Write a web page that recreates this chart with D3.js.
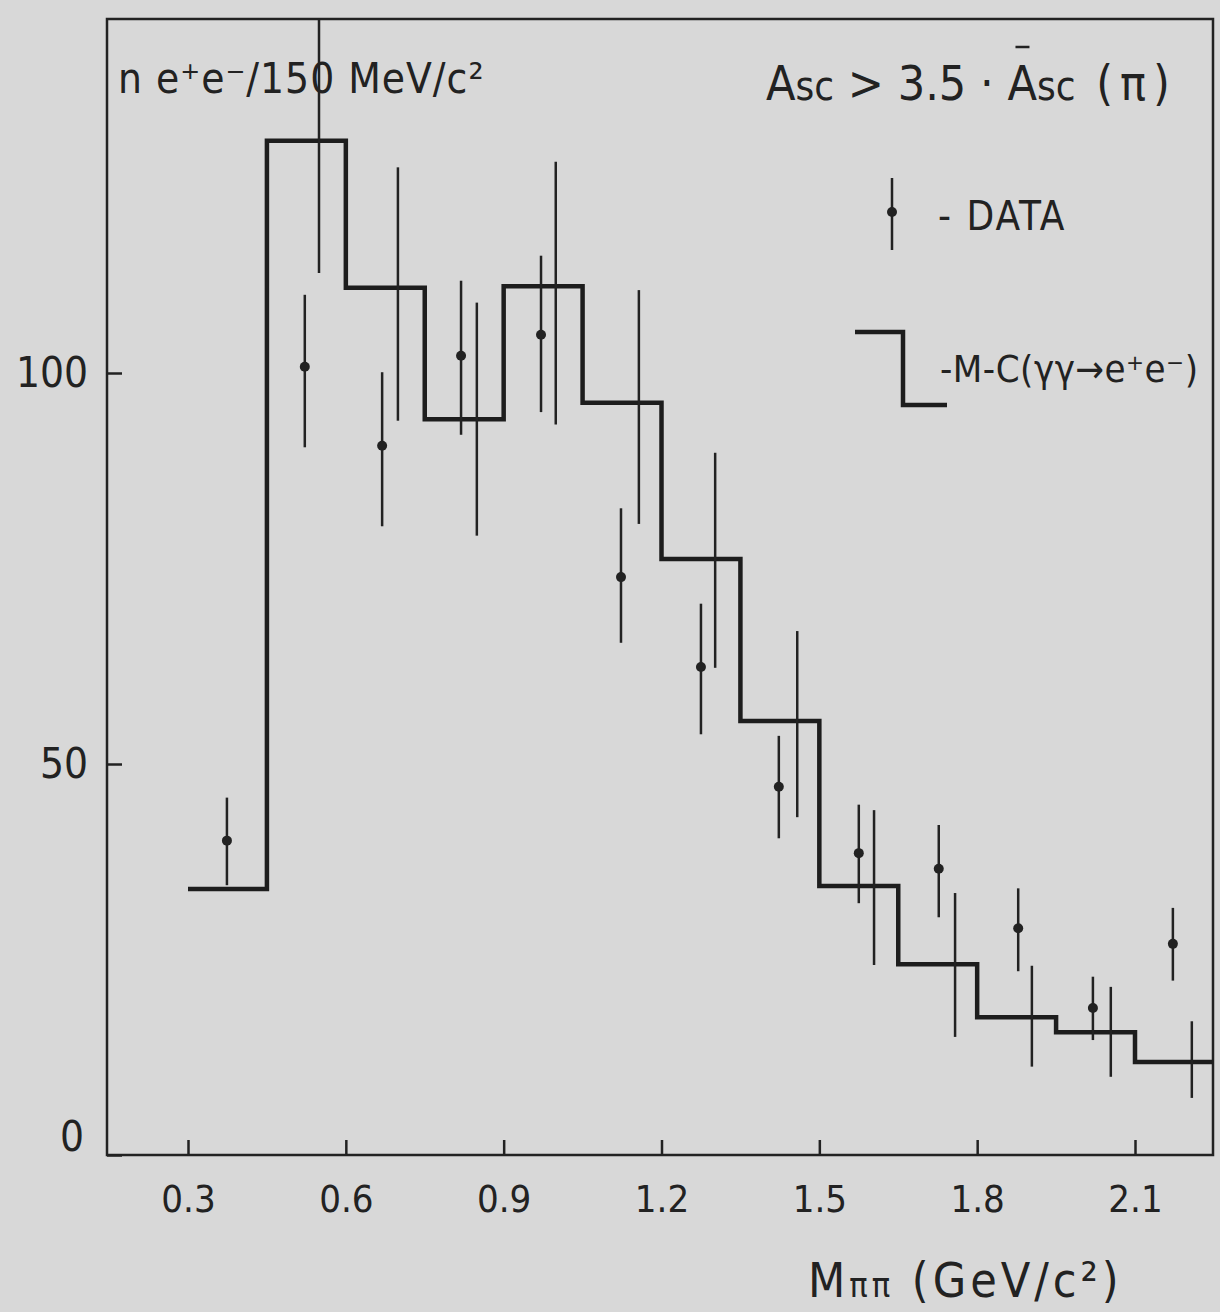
<!DOCTYPE html>
<html>
<head>
  <meta charset="utf-8">
  <title>M pi pi</title>
  <script src="https://d3js.org/d3.v7.min.js"></script>

<style type="text/css">

body {
  margin: 0;
  background: #d8d8d8;
}

svg {
  display: block;
  background: #d8d8d8;
  font-family: "DejaVu Sans Condensed", "DejaVu Sans", sans-serif;
}

text {
  fill: #222;
}

.frame {
  fill: none;
  stroke: #222;
  stroke-width: 2.5;
}

.axis path.domain {
  display: none;
}

.axis line {
  stroke: #222;
  stroke-width: 2.5;
}

.axis text {
  fill: #222;
  font-family: "DejaVu Sans Condensed", "DejaVu Sans", sans-serif;
}

.mc {
  fill: none;
  stroke: #1d1d1d;
  stroke-width: 4.5;
}

.err line {
  stroke: #222;
  stroke-width: 2.5;
}

.dot {
  fill: #222;
}

</style>
</head>
<body>

<svg width="1220" height="1312">
  <defs>
    <clipPath id="plot-clip"><rect x="107" y="19" width="1106" height="1136"></rect></clipPath>
  </defs>
</svg>

<script type="text/javascript">

// MC histogram, 150 MeV bins
let binEdges = [0.3, 0.45, 0.6, 0.75, 0.9, 1.05, 1.2, 1.35, 1.5, 1.65, 1.8, 1.95, 2.1, 2.25];
let mcCounts = [34.0, 129.7, 110.9, 94.1, 111.1, 96.2, 76.2, 55.5, 34.4, 24.4, 17.6, 15.7, 11.9];

// MC error bars (drawn a bit right of each bin centre)
let mcErrMass = [0.549, 0.699, 0.849, 0.999, 1.157, 1.302, 1.458, 1.604, 1.758, 1.904, 2.054, 2.208];
let mcErrLo = [112.8, 93.9, 79.2, 93.4, 80.7, 62.3, 43.2, 24.3, 15.1, 11.3, 10.0, 7.3];
let mcErrHi = [150.0, 126.3, 109.0, 127.0, 110.6, 89.8, 67.0, 44.1, 33.5, 24.2, 21.5, 17.1];

// data points
let dataMass = [0.374, 0.522, 0.669, 0.819, 0.971, 1.123, 1.275, 1.423, 1.575, 1.727, 1.878, 2.020, 2.172];
let dataCounts = [40.2, 100.8, 90.7, 102.2, 104.9, 73.9, 62.4, 47.1, 38.6, 36.6, 29.0, 18.8, 27.0];
let dataLo = [34.5, 90.5, 80.4, 92.1, 95.0, 65.5, 53.8, 40.5, 32.2, 30.4, 23.5, 14.7, 22.3];
let dataHi = [45.7, 110.0, 100.1, 111.8, 115.0, 82.7, 70.5, 53.6, 44.8, 42.2, 34.1, 22.8, 31.6];

let xTicks = [0.3, 0.6, 0.9, 1.2, 1.5, 1.8, 2.1];
let yTicks = [0, 50, 100];

let svg = d3.select('svg');

let x = d3.scaleLinear()
  .domain([0.3, 2.1])
  .range([188, 1135]);

let y = d3.scaleLinear()
  .domain([0, 100])
  .range([1155, 373]);

// frame
svg.append('rect')
  .attr('class', 'frame')
  .attr('x', 107)
  .attr('y', 19)
  .attr('width', 1106)
  .attr('height', 1136);

// axes, ticks pointing inward
svg.append('g')
  .attr('class', 'axis')
  .attr('transform', 'translate(0,1155)')
  .call(d3.axisBottom(x)
    .tickValues(xTicks)
    .tickFormat(d3.format('.1f'))
    .tickSizeInner(-15)
    .tickSizeOuter(0)
    .tickPadding(30))
  .selectAll('text')
  .style('font-size', '38px');

let yAxis = svg.append('g')
  .attr('class', 'axis')
  .attr('transform', 'translate(107,0)')
  .call(d3.axisLeft(y)
    .tickValues(yTicks)
    .tickSizeInner(-15)
    .tickSizeOuter(0)
    .tickPadding(19));

yAxis.selectAll('text')
  .style('font-size', '42px');

yAxis.selectAll('text')
  .filter(d => d === 0)
  .attr('y', -18)
  .attr('x', -23);

let plot = svg.append('g')
  .attr('clip-path', 'url(#plot-clip)');

// MC histogram
let steps = mcCounts.map((c, i) => [binEdges[i], c]);
steps.push([binEdges[binEdges.length - 1], mcCounts[mcCounts.length - 1]]);

let stepLine = d3.line()
  .x(d => x(d[0]))
  .y(d => y(d[1]))
  .curve(d3.curveStepAfter);

plot.append('path')
  .attr('class', 'mc')
  .attr('d', stepLine(steps));

// MC error bars
plot.append('g')
  .attr('class', 'err')
  .selectAll('line')
  .data(mcErrMass)
  .enter()
  .append('line')
  .attr('x1', d => x(d))
  .attr('x2', d => x(d))
  .attr('y1', (d, i) => y(mcErrLo[i]))
  .attr('y2', (d, i) => y(mcErrHi[i]));

// data error bars + dots
plot.append('g')
  .attr('class', 'err')
  .selectAll('line')
  .data(dataMass)
  .enter()
  .append('line')
  .attr('x1', d => x(d))
  .attr('x2', d => x(d))
  .attr('y1', (d, i) => y(dataLo[i]))
  .attr('y2', (d, i) => y(dataHi[i]));

plot.append('g')
  .selectAll('circle')
  .data(dataMass)
  .enter()
  .append('circle')
  .attr('class', 'dot')
  .attr('cx', d => x(d))
  .attr('cy', (d, i) => y(dataCounts[i]))
  .attr('r', 5);

// y label, top left
svg.append('text')
  .attr('x', 118)
  .attr('y', 93)
  .style('font-size', '42px')
  .style('letter-spacing', '1px')
  .text('n e⁺e⁻/150 MeV/c²');

// cut, top right
let cut = svg.append('text')
  .attr('x', 766)
  .attr('y', 100)
  .style('font-size', '48px');
cut.append('tspan').text('A');
cut.append('tspan').style('font-size', '40px').text('sc');
cut.append('tspan').text(' > 3.5 · ');
let abar = cut.append('tspan').text('A');
cut.append('tspan').style('font-size', '40px').text('sc');
cut.append('tspan').style('letter-spacing', '7px').text(' (π)');

let bb = abar.node().getBBox();
svg.append('line')
  .attr('x1', bb.x + 8)
  .attr('x2', bb.x + bb.width - 8)
  .attr('y1', 47)
  .attr('y2', 47)
  .style('stroke', '#222')
  .style('stroke-width', 2.5);

// legend: data
let leg = svg.append('g').attr('class', 'err');
leg.append('line')
  .attr('x1', 892).attr('x2', 892)
  .attr('y1', 178).attr('y2', 250);
svg.append('circle')
  .attr('class', 'dot')
  .attr('cx', 892)
  .attr('cy', 212)
  .attr('r', 5);
svg.append('text')
  .attr('x', 938)
  .attr('y', 230)
  .style('font-size', '40px')
  .style('letter-spacing', '2px')
  .text('- DATA');

// legend: MC
svg.append('path')
  .attr('class', 'mc')
  .attr('d', 'M855,332H903V405H947');
svg.append('text')
  .attr('x', 940)
  .attr('y', 382)
  .style('font-size', '38px')
  .style('letter-spacing', '0.5px')
  .text('-M-C(γγ→e⁺e⁻)');

// x label
let xl = svg.append('text')
  .attr('x', 808)
  .attr('y', 1297)
  .style('font-size', '48px')
  .style('letter-spacing', '4px');
xl.append('tspan').text('M');
xl.append('tspan').style('font-size', '34px').text('ππ');
xl.append('tspan').text(' (GeV/c²)');

</script>

</body>
</html>
